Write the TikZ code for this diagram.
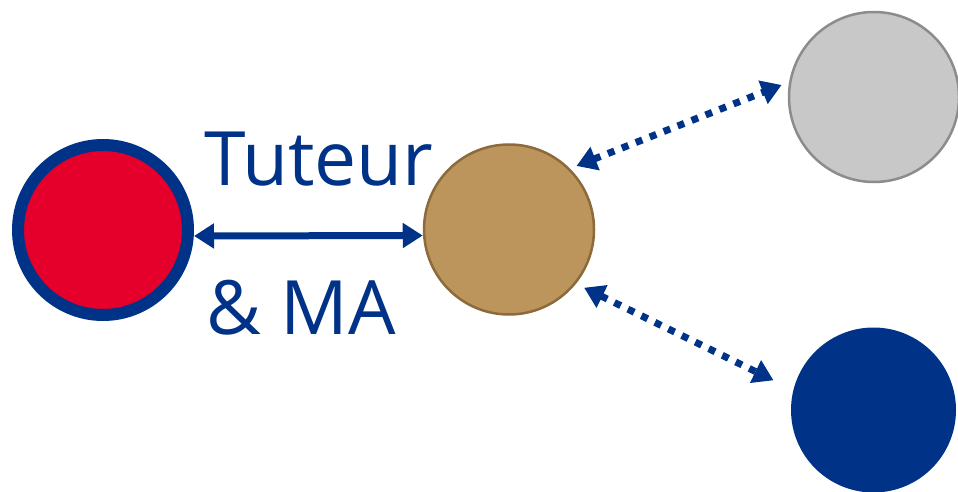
\documentclass[tikz,border=0pt]{standalone}
\usepackage{fontspec}
\setmainfont{Open Sans}
\usetikzlibrary{arrows.meta}
\definecolor{navy}{RGB}{0,50,136}
\definecolor{redfill}{RGB}{228,0,43}
\definecolor{brownfill}{RGB}{188,149,92}
\definecolor{brownline}{RGB}{140,106,60}
\definecolor{grayfill}{RGB}{200,200,200}
\definecolor{grayline}{RGB}{140,140,140}

\begin{document}
\begin{tikzpicture}[x=1pt,y=-1pt,
    >={Triangle[length=20pt,width=24pt]},
    disc/.style={circle,inner sep=0pt,minimum size=170pt},
    label/.style={anchor=base west,inner sep=0pt,text=navy,font=\fontsize{75}{90}\selectfont},
    link/.style={<->,draw=navy,line width=7pt},
    dotlink/.style={link,dash pattern=on 7pt off 8pt}]
            \useasboundingbox (0,0) rectangle (958,492);

            % draw the people
            \node[disc,fill=redfill,draw=navy,line width=12pt] (student) at (103,230) {};
            \node[disc,fill=brownfill,draw=brownline,line width=2.5pt] (tutor) at (509,229.5) {};
            \node[disc,fill=grayfill,draw=grayline,line width=2.5pt] (other) at (874,97) {};
            \node[disc,fill=navy,minimum size=165pt] (school) at (873.5,410) {};

            % texts round the link
            \node[label] (tut) at (204,185) {Tuteur};
            \node[label] (ma) at (206,334) {\& MA};

            % links
            \draw[link] ([yshift=-6pt]student.east) -- ([yshift=-6pt]tutor.west);
            \draw[dotlink,shorten <=7pt,shorten >=8pt] (tutor.45) -- (other.170);
            \draw[dotlink,shorten <=9pt,shorten >=22pt] (tutor.-39) -- (school.166);

        \end{tikzpicture}
\end{document}
